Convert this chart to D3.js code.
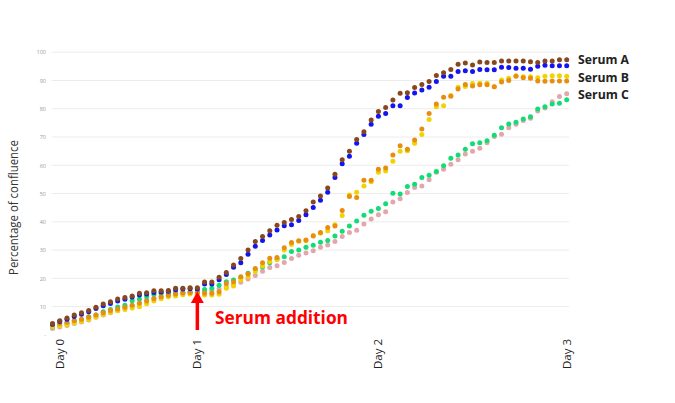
<!DOCTYPE html>
<html>
<head>
<meta charset="utf-8">
<script src="https://cdn.jsdelivr.net/npm/d3@7"></script>
<style>
  html, body { margin: 0; padding: 0; background: #fff; }
  svg { display: block; }
</style>
</head>
<body>
<svg id="chart" width="675" height="403"></svg>
<script>
// ---- Data (index = time point, 72 points from Day 0 to Day 3) ----
const dayLabels = ["Day 0", "Day 1", "Day 2", "Day 3"];
const dayIndices = [1, 20, 45, 71];
const yTickValues = [0, 10, 20, 30, 40, 50, 60, 70, 80, 90, 100];
const yTickLabels = ["-", "10", "20", "30", "40", "50", "60", "70", "80", "90", "100"];
const legendLabels = ["Serum A", "Serum B", "Serum C"];
const serumAdditionIndex = 20;

const serumA1 = [4.0, 5.0, 6.0, 7.0, 7.8, 8.6, 9.8, 10.9, 11.7, 12.7,
  13.2, 13.8, 14.7, 14.9, 15.6, 15.6, 15.7, 16.5, 16.5, 16.7,
  16.7, 18.7, 18.7, 20.4, 22.1, 24.7, 27.0, 30.0, 33.0, 34.8,
  36.8, 38.8, 39.8, 40.8, 41.9, 43.9, 47.0, 49.1, 52.0, 56.8,
  62.0, 65.0, 69.1, 71.9, 76.0, 79.0, 80.4, 83.1, 85.5, 85.7,
  87.5, 88.6, 89.6, 91.8, 92.7, 93.9, 95.7, 96.2, 95.5, 96.5,
  96.4, 96.4, 96.9, 96.9, 96.9, 96.9, 96.6, 96.4, 96.9, 96.9,
  97.3, 97.3];
const serumA2 = [3.8, 4.7, 5.5, 6.5, 7.3, 8.2, 9.3, 10.3, 11.1, 12.0,
  12.6, 13.4, 14.1, 14.5, 15.0, 15.2, 15.4, 16.0, 16.2, 16.3,
  16.2, 18.0, 18.0, 19.5, 21.4, 23.9, 25.5, 28.5, 31.4, 33.4,
  35.3, 37.1, 38.6, 39.0, 40.5, 42.5, 45.1, 47.6, 50.5, 55.7,
  60.5, 63.2, 67.8, 70.9, 74.5, 77.3, 78.3, 81.1, 81.1, 84.0,
  85.6, 86.6, 87.6, 89.6, 91.5, 91.5, 93.2, 93.4, 93.2, 93.9,
  93.8, 93.8, 94.7, 94.6, 94.3, 94.3, 94.0, 95.0, 95.4, 95.2,
  95.2, 95.2];
const serumB1 = [3.6, 4.0, 4.5, 5.0, 5.5, 6.2, 7.0, 7.8, 8.6, 9.2,
  9.8, 10.5, 11.2, 12.0, 12.8, 13.5, 14.0, 14.5, 14.8, 15.0,
  15.0, 14.7, 14.7, 15.3, 18.2, 18.8, 20.6, 21.5, 23.5, 25.5,
  27.1, 27.4, 30.8, 32.7, 33.3, 33.6, 35.0, 36.2, 38.0, 38.5,
  44.0, 49.0, 48.6, 54.7, 54.7, 58.6, 59.0, 63.6, 66.9, 65.7,
  68.9, 72.8, 78.3, 81.7, 84.1, 84.4, 87.0, 88.6, 88.0, 88.5,
  88.5, 87.8, 89.5, 90.0, 91.5, 91.0, 90.8, 89.8, 89.7, 89.8,
  89.8, 89.8];
const serumB2 = [3.0, 3.2, 3.6, 4.2, 4.8, 5.5, 6.3, 7.2, 8.0, 8.5,
  9.0, 9.5, 10.0, 11.0, 12.0, 12.8, 13.5, 13.8, 14.2, 14.5,
  14.3, 14.1, 14.1, 14.4, 16.5, 17.3, 19.4, 20.6, 22.4, 24.4,
  26.0, 26.7, 30.0, 32.0, 33.1, 33.3, 35.2, 36.0, 36.8, 39.0,
  42.2, 49.5, 50.5, 52.7, 54.2, 57.5, 58.0, 61.4, 65.0, 65.1,
  67.8, 70.9, 76.2, 80.7, 81.1, 84.7, 87.6, 87.9, 88.9, 89.0,
  89.0, 87.8, 90.2, 90.8, 91.7, 91.3, 91.3, 91.0, 91.5, 91.7,
  91.7, 91.5];
const serumC1 = [2.9, 3.3, 4.1, 5.0, 5.3, 6.4, 7.0, 8.2, 9.0, 9.9,
  10.5, 12.1, 12.7, 13.5, 14.3, 14.7, 14.7, 14.9, 14.9, 15.1,
  15.2, 16.1, 16.5, 17.6, 18.8, 19.4, 20.4, 21.8, 23.2, 24.0,
  25.5, 26.8, 27.6, 29.5, 30.0, 31.0, 31.7, 32.8, 33.4, 35.0,
  36.7, 38.5, 40.3, 42.3, 43.7, 44.7, 46.4, 50.1, 49.8, 52.5,
  53.3, 55.7, 56.5, 57.8, 59.8, 62.5, 63.6, 65.7, 67.6, 68.0,
  68.7, 70.6, 73.3, 74.6, 75.2, 76.4, 77.2, 79.9, 80.7, 81.7,
  81.9, 83.2];
const serumC2 = [2.3, 2.8, 3.3, 4.0, 4.6, 5.3, 6.2, 7.0, 7.8, 8.6,
  9.5, 10.3, 11.2, 12.2, 13.0, 13.6, 14.0, 14.4, 14.8, 15.0,
  15.0, 15.3, 15.6, 16.3, 17.0, 17.8, 18.6, 19.8, 21.0, 22.5,
  23.8, 24.5, 25.6, 27.0, 28.2, 29.0, 29.8, 31.0, 31.8, 33.0,
  34.8, 36.2, 37.0, 39.2, 41.0, 42.5, 43.6, 47.0, 48.2, 50.4,
  52.1, 52.7, 54.9, 57.5, 58.6, 60.4, 62.0, 64.0, 65.0, 66.0,
  68.0, 70.2, 71.0, 73.3, 74.5, 75.8, 76.6, 79.2, 80.3, 82.5,
  84.3, 85.3];

// drawing order: bottom first
const seriesList = [
  { values: serumC2, color: "#e3a6aa" },
  { values: serumC1, color: "#12dc74" },
  { values: serumB2, color: "#eed400" },
  { values: serumB1, color: "#e98d10" },
  { values: serumA2, color: "#1414ee" },
  { values: serumA1, color: "#86481c" }
];

// ---- Layout ----
const svg = d3.select("#chart");
const x = d3.scaleLinear().domain([0, 71]).range([52.5, 566.7]);
const y = d3.scaleLinear().domain([0, 100]).range([334.9, 52.2]);
const font = "Open Sans, sans-serif";

// gridlines
svg.append("g").selectAll("line")
  .data(yTickValues.filter(v => v > 0))
  .join("line")
  .attr("x1", 51.5).attr("x2", 569)
  .attr("y1", d => y(d)).attr("y2", d => y(d))
  .attr("stroke", "#ececec").attr("stroke-width", 1);

// y axis tick labels
const yAxis = d3.axisLeft(y).tickValues(yTickValues)
  .tickFormat((d, i) => yTickLabels[i]).tickSize(0).tickPadding(0);
const gy = svg.append("g").attr("transform", "translate(46,0)").call(yAxis);
gy.select(".domain").remove();
gy.selectAll("text")
  .attr("font-family", font)
  .attr("font-size", 5.5)
  .attr("fill", "#9a9a9a");

// y axis title
svg.append("text")
  .attr("transform", "translate(18,207.5) rotate(-90)")
  .attr("text-anchor", "middle")
  .attr("font-family", font)
  .attr("font-size", 12)
  .attr("fill", "#333")
  .attr("textLength", 135)
  .attr("lengthAdjust", "spacingAndGlyphs")
  .text("Percentage of confluence");

// x axis day labels
const xAxis = d3.axisBottom(x).tickValues(dayIndices)
  .tickFormat((d, i) => dayLabels[i]).tickSize(0).tickPadding(0);
const gx = svg.append("g").attr("transform", "translate(0,339)").call(xAxis);
gx.select(".domain").remove();
gx.selectAll("text")
  .attr("font-family", font)
  .attr("font-size", 11)
  .attr("fill", "#222")
  .attr("text-anchor", "end")
  .attr("y", 0)
  .attr("x", 0)
  .attr("transform", "rotate(-90)")
  .attr("dy", "0.32em")
  .attr("textLength", 30)
  .attr("lengthAdjust", "spacingAndGlyphs");

// dots
seriesList.forEach(s => {
  svg.append("g").selectAll("circle")
    .data(s.values)
    .join("circle")
    .attr("cx", (d, i) => x(i))
    .attr("cy", d => y(d))
    .attr("r", 2.5)
    .attr("fill", s.color);
});

// legend
const legendY = [59.5, 77, 94];
svg.append("g").selectAll("text")
  .data(legendLabels)
  .join("text")
  .attr("x", 578)
  .attr("y", (d, i) => legendY[i])
  .attr("dominant-baseline", "central")
  .attr("font-family", font)
  .attr("font-weight", "bold")
  .attr("font-size", 12)
  .attr("fill", "#222")
  .attr("textLength", 51)
  .attr("lengthAdjust", "spacingAndGlyphs")
  .text(d => d);

// serum addition arrow + label
const ax = x(serumAdditionIndex);
svg.append("line")
  .attr("x1", ax).attr("x2", ax)
  .attr("y1", 330).attr("y2", 300)
  .attr("stroke", "#ff0000").attr("stroke-width", 3.5);
svg.append("path")
  .attr("d", `M${ax},291.5 L${ax - 6.5},303 L${ax + 6.5},303 Z`)
  .attr("fill", "#ff0000");
svg.append("text")
  .attr("x", 215).attr("y", 317)
  .attr("dominant-baseline", "central")
  .attr("font-family", font)
  .attr("font-weight", "bold")
  .attr("font-size", 17)
  .attr("fill", "#ff0000")
  .attr("textLength", 133)
  .attr("lengthAdjust", "spacingAndGlyphs")
  .text("Serum addition");
</script>
</body>
</html>
